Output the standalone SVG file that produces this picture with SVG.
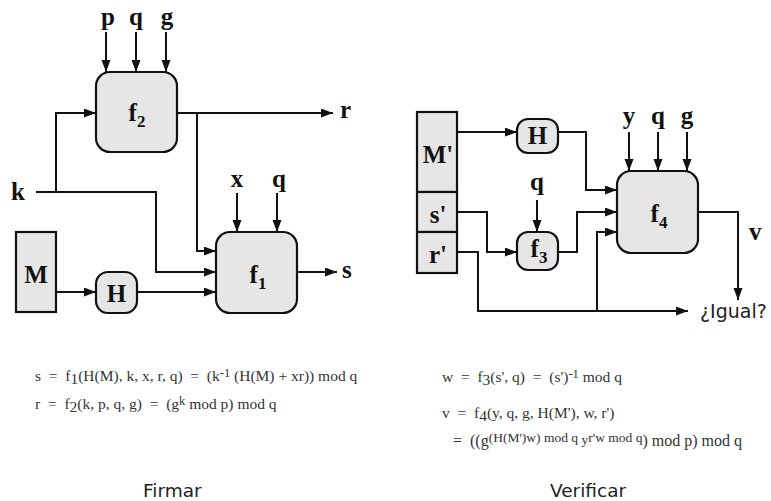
<svg xmlns="http://www.w3.org/2000/svg" width="771" height="501" viewBox="0 0 771 501">
<defs>
<marker id="ah" markerUnits="userSpaceOnUse" markerWidth="13" markerHeight="10" refX="12" refY="4.5" orient="auto">
<path d="M0,0 L12,4.5 L0,9 z" fill="#111"/>
</marker>
<style>
.box{fill:#e6e6e6;stroke:#111;stroke-width:2.2}
.ln{fill:none;stroke:#111;stroke-width:2;marker-end:url(#ah)}
.lb{font-family:"Liberation Serif","Times New Roman",serif;font-weight:bold;font-size:25px;fill:#111}
.mid{text-anchor:middle}
.sub{font-size:17px}
.fm{font-family:"Liberation Serif","Times New Roman",serif;font-size:15.5px;fill:#333;white-space:pre}
.fs{font-size:12.5px}
.fs2{font-size:13.5px}
.cap{font-family:"DejaVu Sans",sans-serif;font-size:18.5px;fill:#222}
</style>
</defs>
<rect width="771" height="501" fill="#fff"/>
<g id="connectors">
<path class="ln" d="M106,32 V72"/>
<path class="ln" d="M136,32 V72"/>
<path class="ln" d="M166,32 V72"/>
<path class="ln" d="M56,192 V113 H96"/>
<path class="ln" d="M177,113 H333"/>
<path class="ln" d="M197,113 V251 H216"/>
<path class="ln" d="M36,192 H156 V272 H216"/>
<path class="ln" d="M56,292 H96"/>
<path class="ln" d="M137,292 H216"/>
<path class="ln" d="M237,193 V232"/>
<path class="ln" d="M277,193 V232"/>
<path class="ln" d="M297,272 H337"/>
<path class="ln" d="M457,132 H517"/>
<path class="ln" d="M558,132 H586 V190 H617"/>
<path class="ln" d="M537,200 V232"/>
<path class="ln" d="M457,212 H487 V252 H517"/>
<path class="ln" d="M558,252 H577 V212 H617"/>
<path class="ln" d="M457,252 H478 V311 H688"/>
<path class="ln" d="M597,311 V232 H617"/>
<path class="ln" d="M629,132 V171"/>
<path class="ln" d="M658,132 V171"/>
<path class="ln" d="M687,132 V171"/>
<path class="ln" d="M698,212 H738 V300"/>
</g>
<g id="inputs-left">
<text class="lb mid" x="108" y="25">p</text>
<text class="lb mid" x="136" y="25">q</text>
<text class="lb mid" x="167" y="25">g</text>
<text class="lb" x="11" y="200">k</text>
<text class="lb mid" x="237" y="187">x</text>
<text class="lb mid" x="279" y="187">q</text>
<text class="lb" x="340" y="118">r</text>
<text class="lb" x="342" y="278">s</text>
</g>
<g id="f2">
<rect class="box" x="96" y="72" width="81" height="80" rx="14"/>
<text class="lb mid" x="137" y="121">f<tspan class="sub" dy="6">2</tspan></text>
</g>
<g id="f1">
<rect class="box" x="216" y="232" width="81" height="81" rx="14"/>
<text class="lb mid" x="258" y="283">f<tspan class="sub" dy="6">1</tspan></text>
</g>
<g id="M">
<rect class="box" x="16" y="232" width="40" height="80"/>
<text class="lb mid" x="36" y="283">M</text>
</g>
<g id="H1">
<rect class="box" x="96" y="272" width="41" height="41" rx="12"/>
<text class="lb mid" x="116.5" y="302">H</text>
</g>
<g id="Mp">
<rect class="box" x="417" y="112" width="40" height="80"/>
<text class="lb mid" x="438" y="163">M'</text>
</g>
<g id="sp">
<rect class="box" x="417" y="192" width="40" height="40"/>
<text class="lb mid" x="438" y="223">s'</text>
</g>
<g id="rp">
<rect class="box" x="417" y="232" width="40" height="41"/>
<text class="lb mid" x="438" y="263">r'</text>
</g>
<g id="H2">
<rect class="box" x="517" y="119" width="41" height="34" rx="11"/>
<text class="lb mid" x="537.5" y="144">H</text>
</g>
<g id="f3">
<rect class="box" x="517" y="232" width="41" height="38" rx="11"/>
<text class="lb mid" x="539" y="257">f<tspan class="sub" dy="6">3</tspan></text>
</g>
<g id="f4">
<rect class="box" x="617" y="171" width="81" height="82" rx="14"/>
<text class="lb mid" x="659" y="222">f<tspan class="sub" dy="6">4</tspan></text>
</g>
<g id="inputs-right">
<text class="lb mid" x="537" y="190">q</text>
<text class="lb mid" x="629" y="124">y</text>
<text class="lb mid" x="658" y="124">q</text>
<text class="lb mid" x="687" y="124">g</text>
<text class="lb" x="749" y="240">v</text>
<text class="cap" x="700" y="318" style="font-size:19px">¿Igual?</text>
</g>
<g id="formulas">
<text class="fm" x="35" y="381">s  =  f<tspan dy="2.5">1</tspan><tspan dy="-2.5">(H(M), k, x, r, q)  =  (k</tspan><tspan class="fs" dy="-4.5">-1</tspan><tspan dy="4.5"> (H(M) + xr)) mod q</tspan></text>
<text class="fm" x="35" y="409">r  =  f<tspan dy="2.5">2</tspan><tspan dy="-2.5">(k, p, q, g)  =  (g</tspan><tspan class="fs" dy="-4.5">k</tspan><tspan dy="4.5"> mod p) mod q</tspan></text>
<text class="fm" x="442" y="382">w  =  f<tspan dy="2.5">3</tspan><tspan dy="-2.5">(s', q)  =  (s')</tspan><tspan class="fs" dy="-4.5">-1</tspan><tspan dy="4.5"> mod q</tspan></text>
<text class="fm" x="442" y="418">v  =  f<tspan dy="2.5">4</tspan><tspan dy="-2.5">(y, q, g, H(M'), w, r')</tspan></text>
<text class="fm" x="453" y="446" style="font-size:16px">=  ((g<tspan class="fs2" dy="-4">(H(M')w) mod q</tspan><tspan class="fs2" dy="2"> y</tspan><tspan class="fs2" dy="-2">r'w mod q</tspan><tspan dy="4">) mod p) mod q</tspan></text>
</g>
<g id="captions">
<text class="cap" x="143" y="497">Firmar</text>
<text class="cap" x="550" y="497">Verificar</text>
</g>
</svg>
